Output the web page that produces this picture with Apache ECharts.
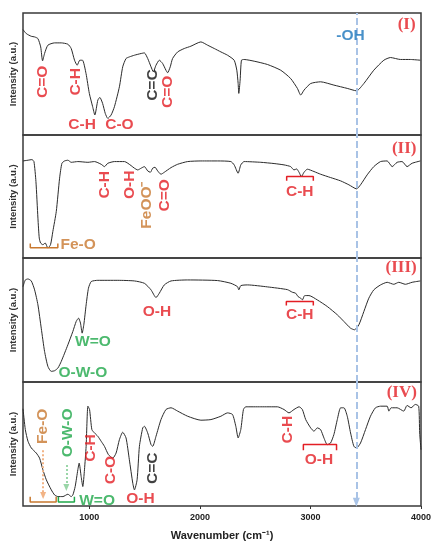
<!DOCTYPE html>
<html><head><meta charset="utf-8">
<script src="https://cdn.jsdelivr.net/npm/echarts@6/dist/echarts.min.js"></script>
<style>html,body{margin:0;padding:0;background:#fff}#c{width:439px;height:550px}</style>
</head><body><div id="c"></div>
<script>
// ---------- DATA ----------
const xTicks = [1000, 2000, 3000, 4000];
const ohLine = 3415;

const wnI = [400,430,475,505,535,560,577,595,625,685,746,806,836,866,890,914,938,970,1000,1030,1050,1077,1095,1120,1144,1167,1197,1227,1272,1302,1332,1362,1408,1468,1498,1528,1558,1579,1603,1633,1663,1693,1708,1732,1753,1799,1859,1919,2009,2070,2130,2190,2250,2310,2334,2346,2352,2364,2376,2400,2491,2611,2731,2821,2882,2912,2942,3002,3092,3212,3333,3417,3483,3573,3664,3724,3814,3904,3994];
const intI = [86.4,83.1,80.9,80.4,79.0,72.2,60.8,66.8,73.6,75.5,75.5,74.4,70.9,61.3,57.2,61.3,61.3,50.4,34.1,23.2,16.4,28.6,30.8,25.9,17.7,13.6,16.4,23.2,39.5,55.9,62.7,64.0,65.4,66.8,67.3,62.7,55.9,51.8,57.2,61.3,58.6,53.1,51.0,55.9,62.7,68.1,70.9,72.8,76.3,73.6,70.9,68.1,65.4,61.3,53.1,42.2,34.1,45.0,61.3,61.9,60.5,57.8,53.1,46.3,38.2,32.7,36.8,42.2,43.6,40.9,38.2,36.2,42.2,53.1,61.3,63.5,61.9,61.9,61.3];

const wnII = [400,445,481,499,517,535,547,559,580,601,625,649,670,701,731,752,776,806,836,896,987,1047,1107,1137,1167,1227,1318,1378,1408,1438,1468,1498,1528,1552,1573,1594,1618,1648,1678,1739,1799,1889,2009,2160,2280,2310,2346,2370,2400,2551,2671,2761,2821,2851,2875,2897,2918,2942,2972,3032,3092,3182,3273,3348,3417,3453,3513,3573,3634,3694,3739,3784,3829,3874,3919,3994];
const intII = [78.9,79.5,80.0,78.4,62.2,32.4,16.2,12.2,10.8,12.2,8.1,10.8,21.6,37.8,64.9,77.0,78.9,79.5,77.8,78.4,77.8,78.4,76.2,74.3,77.0,78.4,78.4,75.1,73.0,71.6,73.0,74.3,70.8,69.7,73.0,73.8,70.8,68.1,69.7,73.5,76.2,78.4,78.9,78.9,78.4,75.7,68.9,75.7,78.4,77.8,76.8,75.7,74.3,71.6,72.4,69.7,66.2,69.7,72.2,70.3,68.1,65.4,62.7,59.5,56.2,59.5,67.6,74.3,78.4,78.9,74.3,77.8,78.4,74.3,77.0,78.9];

const wnIII = [400,421,445,475,505,535,565,595,625,655,686,716,746,806,851,881,902,920,935,950,971,992,1017,1077,1257,1408,1498,1558,1603,1633,1678,1739,1889,2160,2280,2340,2352,2370,2430,2611,2791,2836,2866,2888,2912,2927,2948,2987,3062,3152,3243,3303,3363,3399,3438,3483,3528,3573,3634,3694,3754,3799,3859,3919,3994];
const intIII = [76.9,82.3,83.1,81.5,74.3,62.2,43.4,24.7,12.6,8.6,9.1,11.3,16.6,30.0,40.8,48.8,51.5,47.5,39.4,46.1,62.2,75.6,81.0,82.0,82.0,81.5,79.6,74.3,68.1,71.6,78.3,81.5,82.3,81.8,79.6,76.9,74.3,77.7,78.3,76.7,74.5,72.4,71.6,68.9,67.6,66.2,69.7,69.7,66.2,60.9,54.2,48.8,43.4,42.1,46.1,56.8,67.6,74.3,78.3,80.4,78.8,80.4,78.8,80.4,81.5];

const wnIV = [400,421,445,475,520,550,580,611,656,686,716,761,806,836,851,872,896,908,926,941,956,971,987,1002,1023,1047,1077,1107,1137,1173,1212,1242,1272,1302,1332,1362,1393,1408,1432,1453,1483,1498,1528,1558,1573,1603,1648,1693,1739,1799,1889,2009,2100,2190,2250,2295,2325,2346,2370,2394,2415,2551,2701,2761,2806,2851,2897,2927,2957,3002,3032,3062,3092,3122,3152,3182,3212,3243,3273,3303,3333,3363,3393,3417,3453,3498,3543,3588,3634,3694,3709,3730,3784,3844,3874,3910,3949,3979,3988,4000];
const intIV = [78.4,61.6,52.2,46.8,42.7,38.6,29.2,21.1,13.0,8.9,7.6,7.6,9.5,7.6,8.9,15.7,29.2,34.6,23.8,15.7,29.2,48.1,80.5,77.8,61.6,58.9,56.2,52.2,48.1,41.4,38.6,42.7,53.5,59.5,54.9,37.3,18.4,13.0,21.1,48.1,63.0,64.3,58.9,49.5,48.1,56.2,69.7,77.8,79.2,76.5,72.4,69.2,69.7,72.4,75.1,73.8,64.3,54.9,61.6,77.8,80.0,80.0,80.0,77.8,75.1,77.8,80.0,77.8,69.7,63.0,60.3,63.0,61.6,54.9,49.5,50.8,57.6,69.7,79.2,79.2,72.4,58.9,48.1,46.8,50.8,61.6,72.4,79.2,80.5,80.5,76.5,79.2,79.2,76.5,81.1,79.2,81.9,80.5,58.9,45.4];

// annotations: [wavenumber, intensity, text, group, orientation]
const labelsI = [[580,43.6,'C=O','org',90],[881,43.6,'C-H','org',90],[935,8.7,'C-H','org',0],[1272,8.2,'C-O','org',0],[1573,40.9,'C=C','cc',90],[1708,35.4,'C=O','org',90],[3363,81.7,'-OH','oh',0]];
const labelsII = [[1137,59.5,'C-H','org',90],[1363,59.5,'O-H','org',90],[1522,43,'FeOO⁻','fe',90],[1678,51,'C=O','org',90],[2903,54,'C-H','org',0],[899,10.8,'Fe-O','fe',0]];
const labelsIII = [[1032,32.7,'W=O','w',0],[941,7.2,'O-W-O','w',0],[1612,56.3,'O-H','org',0],[2903,54.2,'C-H','org',0]];
const labelsIV = [[574,64.3,'Fe-O','fe',90],[800,59,'O-W-O','w',90],[1070,4.5,'W=O','w',0],[1017,46.8,'C-H','org',90],[1197,29,'C-O','org',90],[1462,5.5,'O-H','org',0],[1573,30.5,'C=C','cc',90],[2797,61.6,'C-H','org',90],[3077,37.3,'O-H','org',0]];
const panelTags = [['(I)',3870,90.7],['(II)',3848,89.2],['(III)',3820,92],['(IV)',3826,91.4]];
// brackets: [from, to, base, legEnd, group]
const bracketsI = [];
const bracketsII = [[466,715,8.4,11.8,'fe'],[2785,3026,66.2,62.8,'org']];
const bracketsIII = [[2782,3026,64.9,61.6,'org']];
const bracketsIV = [[465,700,3.2,7.4,'fe'],[720,865,3.2,7.4,'w'],[2936,3236,49.5,44.9,'org']];
// dotted arrows in panel IV: [wavenumber, from, to, group]
const arrowsIV = [[582,45,8.5,'fe'],[792,33,15,'w']];

// ---------- STYLE / LAYOUT ----------
const COLORS = {org:'#e31e24', fe:'#c8782f', w:'#1fa84a', cc:'#111111', oh:'#1b75bc'};
const ARROW = {fe:'#f2b486', w:'#9ad6a8'};
const layout = [[13,122],[135,123],[258,124],[382,124]];
const panels = [
  {wn:wnI, y:intI, labels:labelsI, br:bracketsI},
  {wn:wnII, y:intII, labels:labelsII, br:bracketsII},
  {wn:wnIII, y:intIII, labels:labelsIII, br:bracketsIII},
  {wn:wnIV, y:intIV, labels:labelsIV, br:bracketsIV}
];
const FONT = 'Liberation Sans, Arial, sans-serif';

const grid = [], xAxis = [], yAxis = [], series = [];
panels.forEach((p, i) => {
  const last = i === 3;
  grid.push({left:22, right:18, top:layout[i][0], height:layout[i][1], show:true, borderColor:'#3a3a3a', borderWidth:1.5, backgroundColor:'transparent'});
  xAxis.push({type:'value', gridIndex:i, min:400, max:4000,
    axisLine:{show:false}, splitLine:{show:false},
    axisTick:{show:last, customValues:xTicks, length:3, lineStyle:{color:'#333'}},
    axisLabel:{show:last, customValues:xTicks, formatter:v => String(v), fontSize:9, fontWeight:'bold', color:'#222', margin:7, fontFamily:FONT},
    name: last ? 'Wavenumber (cm⁻¹)' : '', nameLocation:'middle', nameGap:24,
    nameTextStyle:{fontSize:11, fontWeight:'bold', color:'#222', fontFamily:FONT}});
  yAxis.push({type:'value', gridIndex:i, min:0, max:100,
    axisLine:{show:false}, axisTick:{show:false}, axisLabel:{show:false}, splitLine:{show:false},
    name:'Intensity (a.u.)', nameLocation:'middle', nameGap:5,
    nameTextStyle:{fontSize:9.5, fontWeight:'bold', color:'#333', fontFamily:FONT}});

  const mlData = last
    ? [[{coord:[ohLine,100]},{coord:[ohLine,3]}]]
    : [{xAxis:ohLine}];
  series.push({type:'line', xAxisIndex:i, yAxisIndex:i, showSymbol:false, smooth:0.2,
    data:p.wn.map((w,k)=>[w,p.y[k]]), lineStyle:{color:'#2b2b2b', width:1}, z:3,
    markLine:{silent:true, symbol: last ? ['none','triangle'] : ['none','none'], symbolSize:[7,9],
      label:{show:false}, lineStyle:{color:'#a9c3e6', type:[7,3], width:2},
      data:mlData}});

  p.br.forEach(b => {
    series.push({type:'line', xAxisIndex:i, yAxisIndex:i, showSymbol:false, silent:true,
      data:[[b[0],b[3]],[b[0],b[2]],[b[1],b[2]],[b[1],b[3]]],
      lineStyle:{color:COLORS[b[4]], width:1.5}, z:4});
  });

  const items = p.labels.map(l => ({value:[l[0],l[1]],
    label:{formatter:l[2], rotate:l[4], color:COLORS[l[3]]}}));
  const t = panelTags[i];
  items.push({value:[t[1],t[2]], label:{formatter:t[0], rotate:0, color:'#e31e24',
    fontFamily:'Liberation Serif, Times New Roman, serif', fontSize:17}});
  series.push({type:'scatter', xAxisIndex:i, yAxisIndex:i, symbolSize:1, silent:true,
    itemStyle:{color:'transparent'}, z:5,
    label:{show:true, position:'inside', fontSize:15.5, fontWeight:'bold', fontFamily:FONT},
    data:items});

  if (last) {
    series.push({type:'line', xAxisIndex:i, yAxisIndex:i, data:[], silent:true,
      markLine:{silent:true, symbol:['none','triangle'], symbolSize:[6,7], label:{show:false},
        data:arrowsIV.map(a => [{coord:[a[0],a[1]], lineStyle:{color:ARROW[a[3]], type:'dotted', width:2}},
                               {coord:[a[0],a[2]]}])}});
  }
});

const chart = echarts.init(document.getElementById('c'), null, {renderer:'canvas'});
chart.setOption({animation:false, backgroundColor:'#fff', grid, xAxis, yAxis, series});
</script></body></html>
